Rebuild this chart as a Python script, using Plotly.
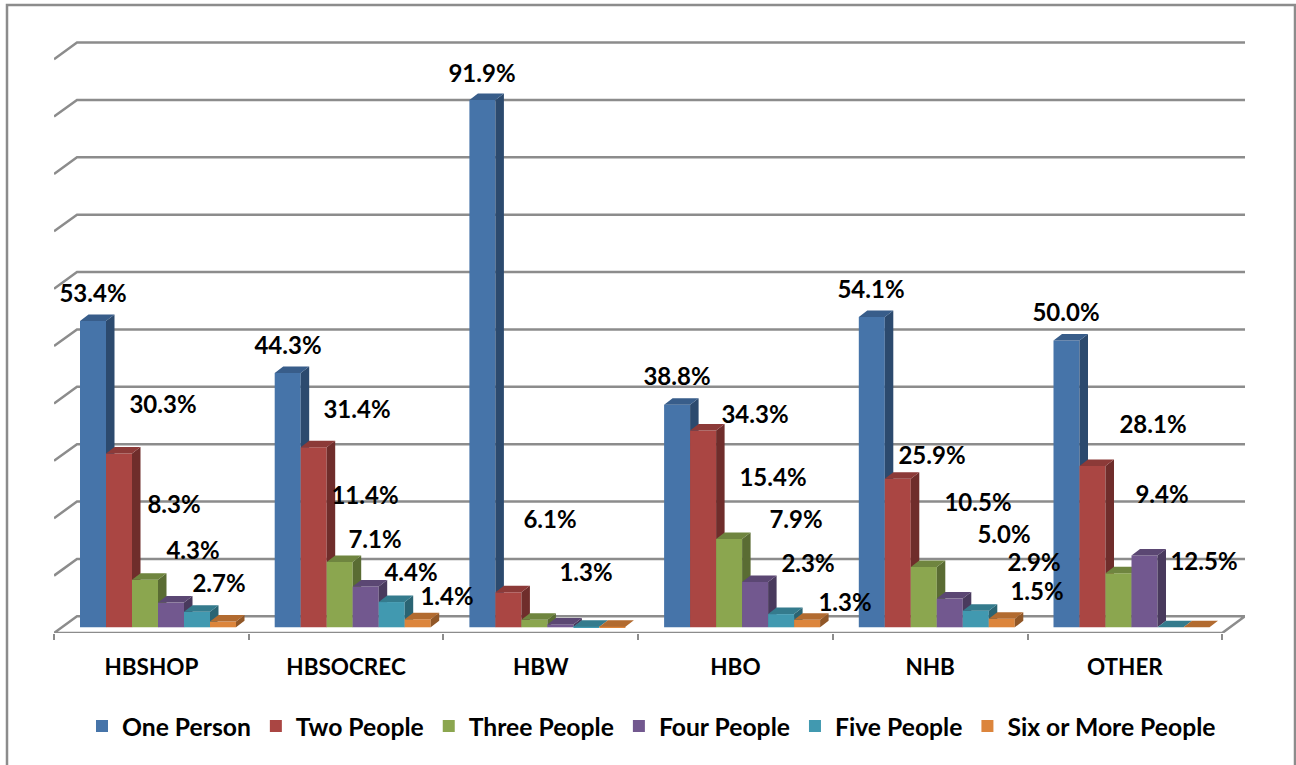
import plotly.graph_objects as go

# Chart data: share of trips by household size and trip purpose (percent)
CATEGORIES = ["HBSHOP", "HBSOCREC", "HBW", "HBO", "NHB", "OTHER"]
SERIES_NAMES = ["One Person", "Two People", "Three People", "Four People", "Five People", "Six or More People"]
ONE_PERSON = [53.4, 44.3, 91.9, 38.8, 54.1, 50.0]
TWO_PEOPLE = [30.3, 31.4, 6.1, 34.3, 25.9, 28.1]
THREE_PEOPLE = [8.3, 11.4, 1.3, 15.4, 10.5, 9.4]
FOUR_PEOPLE = [4.3, 7.1, 0.5, 7.9, 5.0, 12.5]
FIVE_PEOPLE = [2.7, 4.4, 0.1, 2.3, 2.9, 0.0]
SIX_PLUS = [1.0, 1.4, 0.1, 1.3, 1.5, 0.0]
ALL_VALUES = [ONE_PERSON, TWO_PEOPLE, THREE_PEOPLE, FOUR_PEOPLE, FIVE_PEOPLE, SIX_PLUS]

# Colours per series: front, side and top faces of each bar
FRONT = ["#4674A9", "#AA4643", "#8BA64F", "#72588F", "#4199B0", "#DC853C"]
SIDE = ["#2C4A6E", "#6F2D2B", "#5A6C33", "#493A5D", "#2A6473", "#915727"]
TOP = ["#385D8A", "#8C3A38", "#6F853F", "#5B4773", "#347B8D", "#B26B30"]
GRID = "#8C8C8C"

# Label centres on the page, one row per category, one column per series
LABEL_PX = {
    0: [(93, 294), (163, 405), (174, 505), (193, 551), (219, 584), None],
    1: [(288, 346), (357, 410), (365, 496), (375, 540), (411, 573), (447, 597)],
    2: [(482, 74), (550, 520), (586, 573), None, None, None],
    3: [(677, 377), (755, 415), (773, 478), (796, 520), (808, 564), (845, 603)],
    4: [(871, 290), (932, 456), (978, 503), (1004, 535), (1034, 563), (1037, 592)],
    5: [(1066, 313), (1153, 425), (1162, 495), (1204, 562), None, None],
}

# Page geometry and axis scales
W, H = 1296, 765
PLOT_L, PLOT_R, PLOT_T, PLOT_B = 54.0, 1245.0, 30.0, 632.7
PX_PER_CAT = 194.7
PX_PER_PCT = 5.735
ZERO_PX = 627.0
Y_MIN = (ZERO_PX - PLOT_B) / PX_PER_PCT
Y_MAX = (ZERO_PX - PLOT_T) / PX_PER_PCT
X_MAX = (PLOT_R - PLOT_L) / PX_PER_CAT

BAR_W = 26.0 / PX_PER_CAT
BAR_DX = 8.5 / PX_PER_CAT
BAR_DY = 6.5 / PX_PER_PCT
GROUP_START = 26.0 / PX_PER_CAT
WALL_DX = 23.0 / PX_PER_CAT
WALL_DY = (PLOT_B - 616.0) / PX_PER_PCT

FONT = "Lato"
LABEL_SIZE = 24
TICK_SIZE = 22.5
LEGEND_SIZE = 24.7
LABEL_NUDGE = 1.5


def px_x(px):
    return (px - PLOT_L) / PX_PER_CAT


def px_y(px):
    return (ZERO_PX - px) / PX_PER_PCT


fig = go.Figure()

# Back wall gridlines with their diagonal run down to the front edge
wall_x, wall_y = [], []
for pct in range(10, 101, 10):
    wall_x += [0, WALL_DX, X_MAX, None]
    wall_y += [pct + Y_MIN, pct + Y_MIN + WALL_DY, pct + Y_MIN + WALL_DY, None]
fig.add_trace(go.Scatter(x=wall_x, y=wall_y, mode="lines", line=dict(color=GRID, width=2.5),
                         hoverinfo="skip", showlegend=False, cliponaxis=False, zorder=0))

# Floor outline
fig.add_trace(go.Scatter(
    x=[0, 6, X_MAX, WALL_DX, 0],
    y=[Y_MIN, Y_MIN, Y_MIN + WALL_DY, Y_MIN + WALL_DY, Y_MIN],
    mode="lines", line=dict(color=GRID, width=2.5),
    hoverinfo="skip", showlegend=False, cliponaxis=False, zorder=0))

# Bars, back to front so each bar hides the side face of its left neighbour
for s, (name, values) in enumerate(zip(SERIES_NAMES, ALL_VALUES)):
    lefts = [c + GROUP_START + s * BAR_W for c in range(len(CATEGORIES))]
    side_x, side_y, top_x, top_y = [], [], [], []
    for x0, v in zip(lefts, values):
        x1 = x0 + BAR_W
        side_x += [x1, x1 + BAR_DX, x1 + BAR_DX, x1, x1, None]
        side_y += [0, BAR_DY, v + BAR_DY, v, 0, None]
        top_x += [x0, x1, x1 + BAR_DX, x0 + BAR_DX, x0, None]
        top_y += [v, v, v + BAR_DY, v + BAR_DY, v, None]
    fig.add_trace(go.Scatter(x=side_x, y=side_y, mode="lines", fill="toself", fillcolor=SIDE[s],
                             line=dict(width=0, color=SIDE[s]), hoverinfo="skip",
                             showlegend=False, zorder=s + 1))
    fig.add_trace(go.Scatter(x=top_x, y=top_y, mode="lines", fill="toself", fillcolor=TOP[s],
                             line=dict(width=0, color=TOP[s]), hoverinfo="skip",
                             showlegend=False, zorder=s + 1))
    fig.add_trace(go.Bar(x=lefts, y=values, width=BAR_W, offset=0, name=name,
                         marker=dict(color=FRONT[s], line=dict(width=0)), zorder=s + 1))

# Value labels
for s, values in enumerate(ALL_VALUES):
    xs, ys, texts = [], [], []
    for c, v in enumerate(values):
        pos = LABEL_PX[c][s]
        if pos is None:
            continue
        xs.append(px_x(pos[0]))
        ys.append(px_y(pos[1] + LABEL_NUDGE))
        texts.append(f"{v:.1f}%")
    fig.add_trace(go.Scatter(x=xs, y=ys, text=texts, mode="text", textposition="middle center",
                             textfont=dict(family=FONT, size=LABEL_SIZE, color="#000000", weight="bold"),
                             hoverinfo="skip", showlegend=False, cliponaxis=False, zorder=10))

fig.update_layout(
    width=W, height=H,
    autosize=False,
    paper_bgcolor="#FFFFFF",
    plot_bgcolor="#FFFFFF",
    barmode="overlay",
    margin=dict(l=PLOT_L, r=W - PLOT_R, t=PLOT_T, b=H - PLOT_B, pad=0, autoexpand=False),
    xaxis=dict(
        range=[0, X_MAX], showgrid=False, zeroline=False, showline=False,
        tickmode="array", tickvals=[c + 0.5 for c in range(len(CATEGORIES))], ticktext=CATEGORIES,
        ticks="", ticklabelstandoff=18,
        tickfont=dict(family=FONT, size=TICK_SIZE, color="#000000", weight="bold"),
        minor=dict(tickmode="array", tickvals=list(range(len(CATEGORIES) + 1)), ticks="outside",
                   ticklen=6, tickwidth=2, tickcolor=GRID, showgrid=False),
    ),
    yaxis=dict(range=[Y_MIN, Y_MAX], visible=False),
    legend=dict(
        orientation="h", x=(82 - PLOT_L) / (PLOT_R - PLOT_L), xanchor="left",
        y=(PLOT_B - 726) / (PLOT_B - PLOT_T), yanchor="middle",
        font=dict(family=FONT, size=LEGEND_SIZE, color="#000000", weight="bold"),
        bgcolor="rgba(0,0,0,0)",
    ),
    shapes=[dict(
        type="rect", xref="paper", yref="paper", layer="below",
        x0=(7 - PLOT_L) / (PLOT_R - PLOT_L), x1=(1295 - PLOT_L) / (PLOT_R - PLOT_L),
        y0=(PLOT_B - 775) / (PLOT_B - PLOT_T), y1=(PLOT_B - 5) / (PLOT_B - PLOT_T),
        line=dict(color=GRID, width=2.5), fillcolor="rgba(0,0,0,0)",
    )],
)

fig.write_html("out.html")
